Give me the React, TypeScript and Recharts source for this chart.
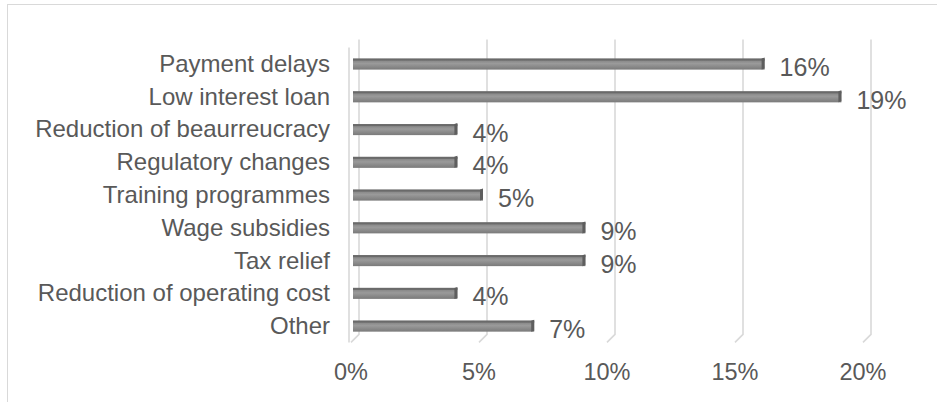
import { BarChart, Bar, XAxis, YAxis, CartesianGrid, LabelList } from "recharts";

const categories = [
  "Payment delays",
  "Low interest loan",
  "Reduction of beaurreucracy",
  "Regulatory changes",
  "Training programmes",
  "Wage subsidies",
  "Tax relief",
  "Reduction of operating cost",
  "Other",
];
const shares = [16, 19, 4, 4, 5, 9, 9, 4, 7];
const xTicks = [0, 5, 10, 15, 20];

const data = categories.map((name, i) => ({ name, value: shares[i] }));

const TEXT = "#595959";
const GRID = "#d9d9d9";
const FONT = "'Liberation Sans', Arial, sans-serif";

// back-wall gridline with the little floor diagonal, faking the 3D look
function GridLine(props: any) {
  const { x1, y1, y2, index } = props;
  const bx = x1 + 4;
  const fx = x1 - 4;
  const top = y1 - 8;
  const bottom = y2;
  return (
    <g key={`g-${index}-${x1}`}>
      <polyline
        points={`${bx},${top} ${bx},${bottom - 8} ${fx},${bottom}`}
        fill="none"
        stroke={GRID}
        strokeWidth={1.6}
      />
      {index === 0 && (
        <line x1={fx - 2} y1={y1} x2={fx - 2} y2={bottom} stroke={GRID} strokeWidth={1.6} />
      )}
    </g>
  );
}

function Bar3D(props: any) {
  const { x, y, width, height } = props;
  const x0 = x - 2;
  const w = width + 2;
  return (
    <g>
      <rect x={x0} y={y} width={w} height={height} fill="url(#barFill)" />
      <rect x={x0} y={y} width={w} height={2} fill="#6a6a6a" />
      <polygon
        points={`${x0 + w - 3},${y} ${x0 + w},${y - 1} ${x0 + w},${y + height - 1} ${x0 + w - 3},${y + height}`}
        fill="#5e5e5e"
      />
    </g>
  );
}

function CategoryTick(props: any) {
  const { y, payload } = props;
  return (
    <text x={330} y={y + 8} textAnchor="end" fill={TEXT} fontSize={24} fontFamily={FONT}>
      {payload.value}
    </text>
  );
}

function ValueTick(props: any) {
  const { x, payload } = props;
  return (
    <text x={x - 4} y={380} textAnchor="middle" fill={TEXT} fontSize={23.5} fontFamily={FONT}>
      {payload.value}%
    </text>
  );
}

function ValueLabel(props: any) {
  const { x, y, width, height, value } = props;
  return (
    <text x={x + width + 15} y={y + height / 2 + 12} fill={TEXT} fontSize={25} fontFamily={FONT}>
      {value}%
    </text>
  );
}

export default function App() {
  return (
    <div style={{ position: "absolute", left: 0, top: 0, width: 937, height: 402, overflow: "hidden", background: "#fff" }}>
      <div
        style={{
          position: "absolute",
          left: 7,
          top: 4,
          width: 960,
          height: 420,
          border: `1px solid ${GRID}`,
        }}
      />
      <div style={{ position: "absolute", left: 0, top: 0 }}>
        <BarChart
          width={937}
          height={402}
          data={data}
          layout="vertical"
          barSize={11}
          margin={{ top: 47.6, right: 70, left: 0, bottom: 29.6 }}
        >
          <defs>
            <linearGradient id="barFill" x1="0" y1="0" x2="0" y2="1">
              <stop offset="0%" stopColor="#7c7c7c" />
              <stop offset="45%" stopColor="#9a9a9a" />
              <stop offset="100%" stopColor="#7a7a7a" />
            </linearGradient>
          </defs>
          <CartesianGrid horizontal={false} vertical={GridLine} />
          <XAxis
            type="number"
            domain={[0, 20]}
            ticks={xTicks}
            axisLine={false}
            tickLine={false}
            height={30}
            tick={ValueTick}
          />
          <YAxis
            type="category"
            dataKey="name"
            width={355}
            axisLine={false}
            tickLine={false}
            interval={0}
            tick={CategoryTick}
          />
          <Bar dataKey="value" shape={Bar3D} isAnimationActive={false}>
            <LabelList dataKey="value" content={ValueLabel} />
          </Bar>
        </BarChart>
      </div>
    </div>
  );
}
